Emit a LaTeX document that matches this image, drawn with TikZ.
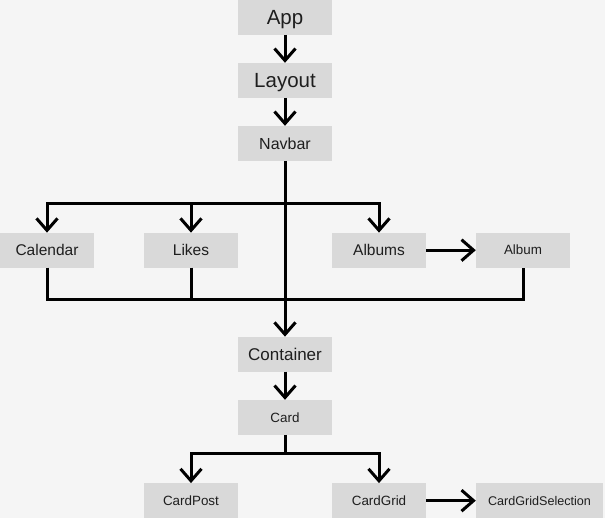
\documentclass[tikz,border=0pt]{standalone}
\usepackage{fontspec}
\setmainfont{Liberation Sans}
\usetikzlibrary{arrows.meta}
\definecolor{bg}{HTML}{F5F5F5}
\definecolor{boxc}{HTML}{D9D9D9}
\definecolor{txt}{HTML}{1E1E1E}
\begin{document}
\begin{tikzpicture}[x=1pt,y=-1pt,
  bx/.style={fill=boxc, minimum width=94pt, minimum height=34.7pt, inner sep=0pt, text=txt, text depth=0pt},
  fA/.style={font=\fontsize{20.5pt}{24pt}\selectfont, text height=14.68pt},
  fB/.style={font=\fontsize{17pt}{20pt}\selectfont, text height=12.17pt},
  fC/.style={font=\fontsize{16pt}{19pt}\selectfont, text height=11.46pt},
  fD/.style={font=\fontsize{15.5pt}{18pt}\selectfont, text height=11.1pt},
  fE/.style={font=\fontsize{13.4pt}{16pt}\selectfont, text height=9.6pt},
  fF/.style={font=\fontsize{12.6pt}{15pt}\selectfont, text height=9.02pt},
  ln/.style={line width=3pt, draw=black},
  arr/.style={ln, -{Straight Barb[length=12pt,width=21pt,sharp]}}]
\fill[bg] (0,0) rectangle (605,518);
\useasboundingbox (0,0) rectangle (605,518);

\node[bx,fA] (app) at (285,17.35) {App};
\node[bx,fA] (layout) at (285,80.35) {Layout};
\node[bx,fC] (navbar) at (285,143.35) {Navbar};
\node[bx,fD] (calendar) at (47,250.2) {Calendar};
\node[bx,fD] (likes) at (191,250.2) {Likes};
\node[bx,fD] (albums) at (379,250.2) {Albums};
\node[bx,fE] (album) at (523,250.2) {Album};
\node[bx,fB] (container) at (285,354.2) {Container};
\node[bx,fE] (card) at (285,417.35) {Card};
\node[bx,fE] (cardpost) at (191,500.65) {CardPost};
\node[bx,fE] (cardgrid) at (379,500.65) {CardGrid};
\node[bx,fF,minimum width=127pt] (cgs) at (539.5,500.65) {CardGridSelection};

\coordinate (busT) at (285,203.3);
\coordinate (busB) at (285,300);
\coordinate (busC) at (285,453.3);

\draw[arr] (app) -- (layout);
\draw[arr] (layout) -- (navbar);
\draw[arr] (navbar) -- (container);
\draw[arr] (container) -- (card);

\draw[arr] (busT -| albums.north) -- (busT -| calendar.north) -- (calendar.north);
\draw[arr] (busT -| calendar.north) -- (busT -| albums.north) -- (albums.north);
\draw[arr] (busT -| likes.north) -- (likes.north);
\draw[arr] (albums) -- (album);

\draw[ln] (calendar.south) -- (calendar.south |- busB) -- (album.south |- busB) -- (album.south);
\draw[ln] (likes.south) -- (likes.south |- busB);

\draw[ln] (card.south) -- (busC);
\draw[arr] (busC -| cardgrid.north) -- (busC -| cardpost.north) -- (cardpost.north);
\draw[arr] (busC -| cardpost.north) -- (busC -| cardgrid.north) -- (cardgrid.north);
\draw[arr] (cardgrid) -- (cgs);
\end{tikzpicture}
\end{document}
